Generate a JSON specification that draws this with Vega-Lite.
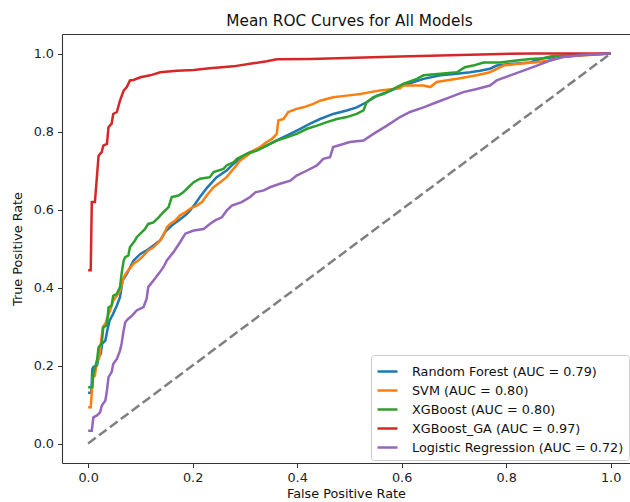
{
  "$schema": "https://vega.github.io/schema/vega-lite/v6.json",
  "width": 568,
  "height": 429,
  "autosize": {"type": "none"},
  "padding": {"left": 62, "top": 34, "right": 0, "bottom": 39},
  "background": "white",
  "title": {"text": "Mean ROC Curves for All Models", "fontSize": 15.3, "font": "DejaVu Sans", "fontWeight": "normal", "color": "#111", "offset": 5, "dx": 3.5},
  "config": {
    "view": {"stroke": null},
    "axis": {"domainColor": "#333", "domainWidth": 1.1, "tickColor": "#333", "tickSize": 4.5, "tickWidth": 1, "labelFont": "DejaVu Sans", "labelFontSize": 12.8, "labelColor": "#222", "labelPadding": 4, "grid": false, "titleFont": "DejaVu Sans", "titleFontSize": 12.8, "titleFontWeight": "normal", "titleColor": "#111"},
    "legend": {"orient": "none", "legendX": 309, "legendY": 321, "padding": 5, "fillColor": "rgba(255,255,255,0.85)", "strokeColor": "#cccccc", "cornerRadius": 3, "symbolType": "stroke", "symbolStrokeWidth": 2.5, "symbolSize": 400, "labelFont": "DejaVu Sans", "labelFontSize": 12.8, "labelColor": "#111", "labelLimit": 400, "labelOffset": 13, "rowPadding": -5}
  },
  "datasets": {
    "diag": [{"fpr": 0, "tpr": 0}, {"fpr": 1, "tpr": 1}],
    "curves": [
      {"model": "Random Forest (AUC = 0.79)", "i": 0, "fpr": 0, "tpr": 0.13},
      {"model": "Random Forest (AUC = 0.79)", "i": 1, "fpr": 0.006, "tpr": 0.13},
      {"model": "Random Forest (AUC = 0.79)", "i": 2, "fpr": 0.008, "tpr": 0.19},
      {"model": "Random Forest (AUC = 0.79)", "i": 3, "fpr": 0.010, "tpr": 0.196},
      {"model": "Random Forest (AUC = 0.79)", "i": 4, "fpr": 0.017, "tpr": 0.200},
      {"model": "Random Forest (AUC = 0.79)", "i": 5, "fpr": 0.020, "tpr": 0.221},
      {"model": "Random Forest (AUC = 0.79)", "i": 6, "fpr": 0.024, "tpr": 0.230},
      {"model": "Random Forest (AUC = 0.79)", "i": 7, "fpr": 0.027, "tpr": 0.256},
      {"model": "Random Forest (AUC = 0.79)", "i": 8, "fpr": 0.033, "tpr": 0.264},
      {"model": "Random Forest (AUC = 0.79)", "i": 9, "fpr": 0.036, "tpr": 0.285},
      {"model": "Random Forest (AUC = 0.79)", "i": 10, "fpr": 0.041, "tpr": 0.315},
      {"model": "Random Forest (AUC = 0.79)", "i": 11, "fpr": 0.048, "tpr": 0.333},
      {"model": "Random Forest (AUC = 0.79)", "i": 12, "fpr": 0.055, "tpr": 0.354},
      {"model": "Random Forest (AUC = 0.79)", "i": 13, "fpr": 0.061, "tpr": 0.375},
      {"model": "Random Forest (AUC = 0.79)", "i": 14, "fpr": 0.066, "tpr": 0.418},
      {"model": "Random Forest (AUC = 0.79)", "i": 15, "fpr": 0.074, "tpr": 0.435},
      {"model": "Random Forest (AUC = 0.79)", "i": 16, "fpr": 0.087, "tpr": 0.469},
      {"model": "Random Forest (AUC = 0.79)", "i": 17, "fpr": 0.100, "tpr": 0.486},
      {"model": "Random Forest (AUC = 0.79)", "i": 18, "fpr": 0.112, "tpr": 0.495},
      {"model": "Random Forest (AUC = 0.79)", "i": 19, "fpr": 0.125, "tpr": 0.508},
      {"model": "Random Forest (AUC = 0.79)", "i": 20, "fpr": 0.138, "tpr": 0.521},
      {"model": "Random Forest (AUC = 0.79)", "i": 21, "fpr": 0.147, "tpr": 0.542},
      {"model": "Random Forest (AUC = 0.79)", "i": 22, "fpr": 0.160, "tpr": 0.559},
      {"model": "Random Forest (AUC = 0.79)", "i": 23, "fpr": 0.173, "tpr": 0.572},
      {"model": "Random Forest (AUC = 0.79)", "i": 24, "fpr": 0.186, "tpr": 0.585},
      {"model": "Random Forest (AUC = 0.79)", "i": 25, "fpr": 0.195, "tpr": 0.597},
      {"model": "Random Forest (AUC = 0.79)", "i": 26, "fpr": 0.205, "tpr": 0.615},
      {"model": "Random Forest (AUC = 0.79)", "i": 27, "fpr": 0.214, "tpr": 0.632},
      {"model": "Random Forest (AUC = 0.79)", "i": 28, "fpr": 0.227, "tpr": 0.655},
      {"model": "Random Forest (AUC = 0.79)", "i": 29, "fpr": 0.246, "tpr": 0.683},
      {"model": "Random Forest (AUC = 0.79)", "i": 30, "fpr": 0.265, "tpr": 0.700},
      {"model": "Random Forest (AUC = 0.79)", "i": 31, "fpr": 0.278, "tpr": 0.717},
      {"model": "Random Forest (AUC = 0.79)", "i": 32, "fpr": 0.291, "tpr": 0.730},
      {"model": "Random Forest (AUC = 0.79)", "i": 33, "fpr": 0.310, "tpr": 0.747},
      {"model": "Random Forest (AUC = 0.79)", "i": 34, "fpr": 0.329, "tpr": 0.756},
      {"model": "Random Forest (AUC = 0.79)", "i": 35, "fpr": 0.348, "tpr": 0.768},
      {"model": "Random Forest (AUC = 0.79)", "i": 36, "fpr": 0.367, "tpr": 0.781},
      {"model": "Random Forest (AUC = 0.79)", "i": 37, "fpr": 0.387, "tpr": 0.794},
      {"model": "Random Forest (AUC = 0.79)", "i": 38, "fpr": 0.406, "tpr": 0.807},
      {"model": "Random Forest (AUC = 0.79)", "i": 39, "fpr": 0.425, "tpr": 0.820},
      {"model": "Random Forest (AUC = 0.79)", "i": 40, "fpr": 0.444, "tpr": 0.832},
      {"model": "Random Forest (AUC = 0.79)", "i": 41, "fpr": 0.469, "tpr": 0.845},
      {"model": "Random Forest (AUC = 0.79)", "i": 42, "fpr": 0.495, "tpr": 0.854},
      {"model": "Random Forest (AUC = 0.79)", "i": 43, "fpr": 0.514, "tpr": 0.862},
      {"model": "Random Forest (AUC = 0.79)", "i": 44, "fpr": 0.533, "tpr": 0.875},
      {"model": "Random Forest (AUC = 0.79)", "i": 45, "fpr": 0.553, "tpr": 0.892},
      {"model": "Random Forest (AUC = 0.79)", "i": 46, "fpr": 0.572, "tpr": 0.901},
      {"model": "Random Forest (AUC = 0.79)", "i": 47, "fpr": 0.603, "tpr": 0.918},
      {"model": "Random Forest (AUC = 0.79)", "i": 48, "fpr": 0.642, "tpr": 0.935},
      {"model": "Random Forest (AUC = 0.79)", "i": 49, "fpr": 0.674, "tpr": 0.944},
      {"model": "Random Forest (AUC = 0.79)", "i": 50, "fpr": 0.706, "tpr": 0.948},
      {"model": "Random Forest (AUC = 0.79)", "i": 51, "fpr": 0.731, "tpr": 0.952},
      {"model": "Random Forest (AUC = 0.79)", "i": 52, "fpr": 0.750, "tpr": 0.956},
      {"model": "Random Forest (AUC = 0.79)", "i": 53, "fpr": 0.769, "tpr": 0.961},
      {"model": "Random Forest (AUC = 0.79)", "i": 54, "fpr": 0.782, "tpr": 0.969},
      {"model": "Random Forest (AUC = 0.79)", "i": 55, "fpr": 0.808, "tpr": 0.973},
      {"model": "Random Forest (AUC = 0.79)", "i": 56, "fpr": 0.846, "tpr": 0.977},
      {"model": "Random Forest (AUC = 0.79)", "i": 57, "fpr": 0.871, "tpr": 0.988},
      {"model": "Random Forest (AUC = 0.79)", "i": 58, "fpr": 0.897, "tpr": 0.991},
      {"model": "Random Forest (AUC = 0.79)", "i": 59, "fpr": 0.935, "tpr": 0.995},
      {"model": "Random Forest (AUC = 0.79)", "i": 60, "fpr": 1.0, "tpr": 1.0},

      {"model": "SVM (AUC = 0.80)", "i": 0, "fpr": 0, "tpr": 0.093},
      {"model": "SVM (AUC = 0.80)", "i": 1, "fpr": 0.005, "tpr": 0.093},
      {"model": "SVM (AUC = 0.80)", "i": 2, "fpr": 0.009, "tpr": 0.170},
      {"model": "SVM (AUC = 0.80)", "i": 3, "fpr": 0.013, "tpr": 0.174},
      {"model": "SVM (AUC = 0.80)", "i": 4, "fpr": 0.017, "tpr": 0.213},
      {"model": "SVM (AUC = 0.80)", "i": 5, "fpr": 0.021, "tpr": 0.217},
      {"model": "SVM (AUC = 0.80)", "i": 6, "fpr": 0.024, "tpr": 0.251},
      {"model": "SVM (AUC = 0.80)", "i": 7, "fpr": 0.028, "tpr": 0.298},
      {"model": "SVM (AUC = 0.80)", "i": 8, "fpr": 0.033, "tpr": 0.307},
      {"model": "SVM (AUC = 0.80)", "i": 9, "fpr": 0.036, "tpr": 0.320},
      {"model": "SVM (AUC = 0.80)", "i": 10, "fpr": 0.042, "tpr": 0.341},
      {"model": "SVM (AUC = 0.80)", "i": 11, "fpr": 0.048, "tpr": 0.367},
      {"model": "SVM (AUC = 0.80)", "i": 12, "fpr": 0.055, "tpr": 0.379},
      {"model": "SVM (AUC = 0.80)", "i": 13, "fpr": 0.061, "tpr": 0.392},
      {"model": "SVM (AUC = 0.80)", "i": 14, "fpr": 0.068, "tpr": 0.426},
      {"model": "SVM (AUC = 0.80)", "i": 15, "fpr": 0.074, "tpr": 0.439},
      {"model": "SVM (AUC = 0.80)", "i": 16, "fpr": 0.087, "tpr": 0.461},
      {"model": "SVM (AUC = 0.80)", "i": 17, "fpr": 0.096, "tpr": 0.469},
      {"model": "SVM (AUC = 0.80)", "i": 18, "fpr": 0.106, "tpr": 0.482},
      {"model": "SVM (AUC = 0.80)", "i": 19, "fpr": 0.115, "tpr": 0.495},
      {"model": "SVM (AUC = 0.80)", "i": 20, "fpr": 0.125, "tpr": 0.503},
      {"model": "SVM (AUC = 0.80)", "i": 21, "fpr": 0.135, "tpr": 0.516},
      {"model": "SVM (AUC = 0.80)", "i": 22, "fpr": 0.144, "tpr": 0.533},
      {"model": "SVM (AUC = 0.80)", "i": 23, "fpr": 0.151, "tpr": 0.555},
      {"model": "SVM (AUC = 0.80)", "i": 24, "fpr": 0.157, "tpr": 0.563},
      {"model": "SVM (AUC = 0.80)", "i": 25, "fpr": 0.167, "tpr": 0.572},
      {"model": "SVM (AUC = 0.80)", "i": 26, "fpr": 0.176, "tpr": 0.585},
      {"model": "SVM (AUC = 0.80)", "i": 27, "fpr": 0.186, "tpr": 0.593},
      {"model": "SVM (AUC = 0.80)", "i": 28, "fpr": 0.195, "tpr": 0.602},
      {"model": "SVM (AUC = 0.80)", "i": 29, "fpr": 0.208, "tpr": 0.610},
      {"model": "SVM (AUC = 0.80)", "i": 30, "fpr": 0.218, "tpr": 0.619},
      {"model": "SVM (AUC = 0.80)", "i": 31, "fpr": 0.227, "tpr": 0.636},
      {"model": "SVM (AUC = 0.80)", "i": 32, "fpr": 0.240, "tpr": 0.657},
      {"model": "SVM (AUC = 0.80)", "i": 33, "fpr": 0.253, "tpr": 0.670},
      {"model": "SVM (AUC = 0.80)", "i": 34, "fpr": 0.265, "tpr": 0.683},
      {"model": "SVM (AUC = 0.80)", "i": 35, "fpr": 0.278, "tpr": 0.704},
      {"model": "SVM (AUC = 0.80)", "i": 36, "fpr": 0.291, "tpr": 0.726},
      {"model": "SVM (AUC = 0.80)", "i": 37, "fpr": 0.304, "tpr": 0.738},
      {"model": "SVM (AUC = 0.80)", "i": 38, "fpr": 0.316, "tpr": 0.751},
      {"model": "SVM (AUC = 0.80)", "i": 39, "fpr": 0.329, "tpr": 0.760},
      {"model": "SVM (AUC = 0.80)", "i": 40, "fpr": 0.342, "tpr": 0.773},
      {"model": "SVM (AUC = 0.80)", "i": 41, "fpr": 0.352, "tpr": 0.781},
      {"model": "SVM (AUC = 0.80)", "i": 42, "fpr": 0.361, "tpr": 0.794},
      {"model": "SVM (AUC = 0.80)", "i": 43, "fpr": 0.364, "tpr": 0.828},
      {"model": "SVM (AUC = 0.80)", "i": 44, "fpr": 0.374, "tpr": 0.832},
      {"model": "SVM (AUC = 0.80)", "i": 45, "fpr": 0.383, "tpr": 0.850},
      {"model": "SVM (AUC = 0.80)", "i": 46, "fpr": 0.399, "tpr": 0.858},
      {"model": "SVM (AUC = 0.80)", "i": 47, "fpr": 0.412, "tpr": 0.862},
      {"model": "SVM (AUC = 0.80)", "i": 48, "fpr": 0.431, "tpr": 0.871},
      {"model": "SVM (AUC = 0.80)", "i": 49, "fpr": 0.444, "tpr": 0.879},
      {"model": "SVM (AUC = 0.80)", "i": 50, "fpr": 0.469, "tpr": 0.888},
      {"model": "SVM (AUC = 0.80)", "i": 51, "fpr": 0.495, "tpr": 0.892},
      {"model": "SVM (AUC = 0.80)", "i": 52, "fpr": 0.521, "tpr": 0.896},
      {"model": "SVM (AUC = 0.80)", "i": 53, "fpr": 0.540, "tpr": 0.901},
      {"model": "SVM (AUC = 0.80)", "i": 54, "fpr": 0.559, "tpr": 0.905},
      {"model": "SVM (AUC = 0.80)", "i": 55, "fpr": 0.597, "tpr": 0.911},
      {"model": "SVM (AUC = 0.80)", "i": 56, "fpr": 0.603, "tpr": 0.918},
      {"model": "SVM (AUC = 0.80)", "i": 57, "fpr": 0.642, "tpr": 0.918},
      {"model": "SVM (AUC = 0.80)", "i": 58, "fpr": 0.655, "tpr": 0.914},
      {"model": "SVM (AUC = 0.80)", "i": 59, "fpr": 0.667, "tpr": 0.927},
      {"model": "SVM (AUC = 0.80)", "i": 60, "fpr": 0.706, "tpr": 0.935},
      {"model": "SVM (AUC = 0.80)", "i": 61, "fpr": 0.744, "tpr": 0.944},
      {"model": "SVM (AUC = 0.80)", "i": 62, "fpr": 0.769, "tpr": 0.952},
      {"model": "SVM (AUC = 0.80)", "i": 63, "fpr": 0.795, "tpr": 0.969},
      {"model": "SVM (AUC = 0.80)", "i": 64, "fpr": 0.820, "tpr": 0.973},
      {"model": "SVM (AUC = 0.80)", "i": 65, "fpr": 0.852, "tpr": 0.977},
      {"model": "SVM (AUC = 0.80)", "i": 66, "fpr": 0.884, "tpr": 0.982},
      {"model": "SVM (AUC = 0.80)", "i": 67, "fpr": 0.903, "tpr": 0.991},
      {"model": "SVM (AUC = 0.80)", "i": 68, "fpr": 1.0, "tpr": 1.0},

      {"model": "XGBoost (AUC = 0.80)", "i": 0, "fpr": 0, "tpr": 0.144},
      {"model": "XGBoost (AUC = 0.80)", "i": 1, "fpr": 0.008, "tpr": 0.144},
      {"model": "XGBoost (AUC = 0.80)", "i": 2, "fpr": 0.010, "tpr": 0.179},
      {"model": "XGBoost (AUC = 0.80)", "i": 3, "fpr": 0.017, "tpr": 0.213},
      {"model": "XGBoost (AUC = 0.80)", "i": 4, "fpr": 0.020, "tpr": 0.247},
      {"model": "XGBoost (AUC = 0.80)", "i": 5, "fpr": 0.026, "tpr": 0.256},
      {"model": "XGBoost (AUC = 0.80)", "i": 6, "fpr": 0.029, "tpr": 0.298},
      {"model": "XGBoost (AUC = 0.80)", "i": 7, "fpr": 0.036, "tpr": 0.303},
      {"model": "XGBoost (AUC = 0.80)", "i": 8, "fpr": 0.039, "tpr": 0.349},
      {"model": "XGBoost (AUC = 0.80)", "i": 9, "fpr": 0.045, "tpr": 0.354},
      {"model": "XGBoost (AUC = 0.80)", "i": 10, "fpr": 0.048, "tpr": 0.379},
      {"model": "XGBoost (AUC = 0.80)", "i": 11, "fpr": 0.055, "tpr": 0.384},
      {"model": "XGBoost (AUC = 0.80)", "i": 12, "fpr": 0.061, "tpr": 0.401},
      {"model": "XGBoost (AUC = 0.80)", "i": 13, "fpr": 0.064, "tpr": 0.435},
      {"model": "XGBoost (AUC = 0.80)", "i": 14, "fpr": 0.068, "tpr": 0.469},
      {"model": "XGBoost (AUC = 0.80)", "i": 15, "fpr": 0.071, "tpr": 0.478},
      {"model": "XGBoost (AUC = 0.80)", "i": 16, "fpr": 0.077, "tpr": 0.482},
      {"model": "XGBoost (AUC = 0.80)", "i": 17, "fpr": 0.080, "tpr": 0.503},
      {"model": "XGBoost (AUC = 0.80)", "i": 18, "fpr": 0.090, "tpr": 0.521},
      {"model": "XGBoost (AUC = 0.80)", "i": 19, "fpr": 0.093, "tpr": 0.529},
      {"model": "XGBoost (AUC = 0.80)", "i": 20, "fpr": 0.103, "tpr": 0.542},
      {"model": "XGBoost (AUC = 0.80)", "i": 21, "fpr": 0.109, "tpr": 0.550},
      {"model": "XGBoost (AUC = 0.80)", "i": 22, "fpr": 0.115, "tpr": 0.563},
      {"model": "XGBoost (AUC = 0.80)", "i": 23, "fpr": 0.125, "tpr": 0.567},
      {"model": "XGBoost (AUC = 0.80)", "i": 24, "fpr": 0.135, "tpr": 0.580},
      {"model": "XGBoost (AUC = 0.80)", "i": 25, "fpr": 0.144, "tpr": 0.593},
      {"model": "XGBoost (AUC = 0.80)", "i": 26, "fpr": 0.154, "tpr": 0.606},
      {"model": "XGBoost (AUC = 0.80)", "i": 27, "fpr": 0.160, "tpr": 0.632},
      {"model": "XGBoost (AUC = 0.80)", "i": 28, "fpr": 0.173, "tpr": 0.636},
      {"model": "XGBoost (AUC = 0.80)", "i": 29, "fpr": 0.182, "tpr": 0.644},
      {"model": "XGBoost (AUC = 0.80)", "i": 30, "fpr": 0.192, "tpr": 0.657},
      {"model": "XGBoost (AUC = 0.80)", "i": 31, "fpr": 0.202, "tpr": 0.670},
      {"model": "XGBoost (AUC = 0.80)", "i": 32, "fpr": 0.214, "tpr": 0.679},
      {"model": "XGBoost (AUC = 0.80)", "i": 33, "fpr": 0.233, "tpr": 0.683},
      {"model": "XGBoost (AUC = 0.80)", "i": 34, "fpr": 0.240, "tpr": 0.696},
      {"model": "XGBoost (AUC = 0.80)", "i": 35, "fpr": 0.259, "tpr": 0.704},
      {"model": "XGBoost (AUC = 0.80)", "i": 36, "fpr": 0.265, "tpr": 0.713},
      {"model": "XGBoost (AUC = 0.80)", "i": 37, "fpr": 0.278, "tpr": 0.721},
      {"model": "XGBoost (AUC = 0.80)", "i": 38, "fpr": 0.285, "tpr": 0.730},
      {"model": "XGBoost (AUC = 0.80)", "i": 39, "fpr": 0.304, "tpr": 0.743},
      {"model": "XGBoost (AUC = 0.80)", "i": 40, "fpr": 0.323, "tpr": 0.751},
      {"model": "XGBoost (AUC = 0.80)", "i": 41, "fpr": 0.342, "tpr": 0.764},
      {"model": "XGBoost (AUC = 0.80)", "i": 42, "fpr": 0.361, "tpr": 0.777},
      {"model": "XGBoost (AUC = 0.80)", "i": 43, "fpr": 0.380, "tpr": 0.785},
      {"model": "XGBoost (AUC = 0.80)", "i": 44, "fpr": 0.399, "tpr": 0.794},
      {"model": "XGBoost (AUC = 0.80)", "i": 45, "fpr": 0.419, "tpr": 0.807},
      {"model": "XGBoost (AUC = 0.80)", "i": 46, "fpr": 0.438, "tpr": 0.815},
      {"model": "XGBoost (AUC = 0.80)", "i": 47, "fpr": 0.457, "tpr": 0.824},
      {"model": "XGBoost (AUC = 0.80)", "i": 48, "fpr": 0.476, "tpr": 0.832},
      {"model": "XGBoost (AUC = 0.80)", "i": 49, "fpr": 0.495, "tpr": 0.837},
      {"model": "XGBoost (AUC = 0.80)", "i": 50, "fpr": 0.514, "tpr": 0.845},
      {"model": "XGBoost (AUC = 0.80)", "i": 51, "fpr": 0.527, "tpr": 0.854},
      {"model": "XGBoost (AUC = 0.80)", "i": 52, "fpr": 0.533, "tpr": 0.875},
      {"model": "XGBoost (AUC = 0.80)", "i": 53, "fpr": 0.546, "tpr": 0.888},
      {"model": "XGBoost (AUC = 0.80)", "i": 54, "fpr": 0.565, "tpr": 0.896},
      {"model": "XGBoost (AUC = 0.80)", "i": 55, "fpr": 0.603, "tpr": 0.922},
      {"model": "XGBoost (AUC = 0.80)", "i": 56, "fpr": 0.629, "tpr": 0.935},
      {"model": "XGBoost (AUC = 0.80)", "i": 57, "fpr": 0.642, "tpr": 0.944},
      {"model": "XGBoost (AUC = 0.80)", "i": 58, "fpr": 0.674, "tpr": 0.948},
      {"model": "XGBoost (AUC = 0.80)", "i": 59, "fpr": 0.706, "tpr": 0.952},
      {"model": "XGBoost (AUC = 0.80)", "i": 60, "fpr": 0.721, "tpr": 0.965},
      {"model": "XGBoost (AUC = 0.80)", "i": 61, "fpr": 0.737, "tpr": 0.969},
      {"model": "XGBoost (AUC = 0.80)", "i": 62, "fpr": 0.757, "tpr": 0.977},
      {"model": "XGBoost (AUC = 0.80)", "i": 63, "fpr": 0.789, "tpr": 0.977},
      {"model": "XGBoost (AUC = 0.80)", "i": 64, "fpr": 0.820, "tpr": 0.982},
      {"model": "XGBoost (AUC = 0.80)", "i": 65, "fpr": 0.846, "tpr": 0.986},
      {"model": "XGBoost (AUC = 0.80)", "i": 66, "fpr": 0.871, "tpr": 0.988},
      {"model": "XGBoost (AUC = 0.80)", "i": 67, "fpr": 0.887, "tpr": 0.993},
      {"model": "XGBoost (AUC = 0.80)", "i": 68, "fpr": 1.0, "tpr": 1.0},

      {"model": "XGBoost_GA (AUC = 0.97)", "i": 0, "fpr": 0, "tpr": 0.444},
      {"model": "XGBoost_GA (AUC = 0.97)", "i": 1, "fpr": 0.005, "tpr": 0.444},
      {"model": "XGBoost_GA (AUC = 0.97)", "i": 2, "fpr": 0.007, "tpr": 0.619},
      {"model": "XGBoost_GA (AUC = 0.97)", "i": 3, "fpr": 0.013, "tpr": 0.619},
      {"model": "XGBoost_GA (AUC = 0.97)", "i": 4, "fpr": 0.020, "tpr": 0.738},
      {"model": "XGBoost_GA (AUC = 0.97)", "i": 5, "fpr": 0.026, "tpr": 0.747},
      {"model": "XGBoost_GA (AUC = 0.97)", "i": 6, "fpr": 0.029, "tpr": 0.764},
      {"model": "XGBoost_GA (AUC = 0.97)", "i": 7, "fpr": 0.036, "tpr": 0.768},
      {"model": "XGBoost_GA (AUC = 0.97)", "i": 8, "fpr": 0.039, "tpr": 0.811},
      {"model": "XGBoost_GA (AUC = 0.97)", "i": 9, "fpr": 0.045, "tpr": 0.820},
      {"model": "XGBoost_GA (AUC = 0.97)", "i": 10, "fpr": 0.048, "tpr": 0.845},
      {"model": "XGBoost_GA (AUC = 0.97)", "i": 11, "fpr": 0.055, "tpr": 0.850},
      {"model": "XGBoost_GA (AUC = 0.97)", "i": 12, "fpr": 0.061, "tpr": 0.879},
      {"model": "XGBoost_GA (AUC = 0.97)", "i": 13, "fpr": 0.068, "tpr": 0.905},
      {"model": "XGBoost_GA (AUC = 0.97)", "i": 14, "fpr": 0.074, "tpr": 0.914},
      {"model": "XGBoost_GA (AUC = 0.97)", "i": 15, "fpr": 0.080, "tpr": 0.931},
      {"model": "XGBoost_GA (AUC = 0.97)", "i": 16, "fpr": 0.087, "tpr": 0.932},
      {"model": "XGBoost_GA (AUC = 0.97)", "i": 17, "fpr": 0.100, "tpr": 0.939},
      {"model": "XGBoost_GA (AUC = 0.97)", "i": 18, "fpr": 0.119, "tpr": 0.944},
      {"model": "XGBoost_GA (AUC = 0.97)", "i": 19, "fpr": 0.138, "tpr": 0.952},
      {"model": "XGBoost_GA (AUC = 0.97)", "i": 20, "fpr": 0.170, "tpr": 0.956},
      {"model": "XGBoost_GA (AUC = 0.97)", "i": 21, "fpr": 0.202, "tpr": 0.958},
      {"model": "XGBoost_GA (AUC = 0.97)", "i": 22, "fpr": 0.233, "tpr": 0.962},
      {"model": "XGBoost_GA (AUC = 0.97)", "i": 23, "fpr": 0.278, "tpr": 0.967},
      {"model": "XGBoost_GA (AUC = 0.97)", "i": 24, "fpr": 0.316, "tpr": 0.975},
      {"model": "XGBoost_GA (AUC = 0.97)", "i": 25, "fpr": 0.342, "tpr": 0.980},
      {"model": "XGBoost_GA (AUC = 0.97)", "i": 26, "fpr": 0.361, "tpr": 0.985},
      {"model": "XGBoost_GA (AUC = 0.97)", "i": 27, "fpr": 0.425, "tpr": 0.986},
      {"model": "XGBoost_GA (AUC = 0.97)", "i": 28, "fpr": 0.597, "tpr": 0.992},
      {"model": "XGBoost_GA (AUC = 0.97)", "i": 29, "fpr": 0.789, "tpr": 0.999},
      {"model": "XGBoost_GA (AUC = 0.97)", "i": 30, "fpr": 0.852, "tpr": 1.0},
      {"model": "XGBoost_GA (AUC = 0.97)", "i": 31, "fpr": 1.0, "tpr": 1.0},

      {"model": "Logistic Regression (AUC = 0.72)", "i": 0, "fpr": 0, "tpr": 0.033},
      {"model": "Logistic Regression (AUC = 0.72)", "i": 1, "fpr": 0.007, "tpr": 0.033},
      {"model": "Logistic Regression (AUC = 0.72)", "i": 2, "fpr": 0.010, "tpr": 0.067},
      {"model": "Logistic Regression (AUC = 0.72)", "i": 3, "fpr": 0.017, "tpr": 0.072},
      {"model": "Logistic Regression (AUC = 0.72)", "i": 4, "fpr": 0.023, "tpr": 0.080},
      {"model": "Logistic Regression (AUC = 0.72)", "i": 5, "fpr": 0.026, "tpr": 0.097},
      {"model": "Logistic Regression (AUC = 0.72)", "i": 6, "fpr": 0.033, "tpr": 0.110},
      {"model": "Logistic Regression (AUC = 0.72)", "i": 7, "fpr": 0.036, "tpr": 0.136},
      {"model": "Logistic Regression (AUC = 0.72)", "i": 8, "fpr": 0.039, "tpr": 0.170},
      {"model": "Logistic Regression (AUC = 0.72)", "i": 9, "fpr": 0.045, "tpr": 0.183},
      {"model": "Logistic Regression (AUC = 0.72)", "i": 10, "fpr": 0.048, "tpr": 0.204},
      {"model": "Logistic Regression (AUC = 0.72)", "i": 11, "fpr": 0.055, "tpr": 0.217},
      {"model": "Logistic Regression (AUC = 0.72)", "i": 12, "fpr": 0.061, "tpr": 0.238},
      {"model": "Logistic Regression (AUC = 0.72)", "i": 13, "fpr": 0.064, "tpr": 0.256},
      {"model": "Logistic Regression (AUC = 0.72)", "i": 14, "fpr": 0.068, "tpr": 0.290},
      {"model": "Logistic Regression (AUC = 0.72)", "i": 15, "fpr": 0.071, "tpr": 0.311},
      {"model": "Logistic Regression (AUC = 0.72)", "i": 16, "fpr": 0.077, "tpr": 0.320},
      {"model": "Logistic Regression (AUC = 0.72)", "i": 17, "fpr": 0.084, "tpr": 0.328},
      {"model": "Logistic Regression (AUC = 0.72)", "i": 18, "fpr": 0.093, "tpr": 0.341},
      {"model": "Logistic Regression (AUC = 0.72)", "i": 19, "fpr": 0.106, "tpr": 0.350},
      {"model": "Logistic Regression (AUC = 0.72)", "i": 20, "fpr": 0.112, "tpr": 0.371},
      {"model": "Logistic Regression (AUC = 0.72)", "i": 21, "fpr": 0.115, "tpr": 0.401},
      {"model": "Logistic Regression (AUC = 0.72)", "i": 22, "fpr": 0.125, "tpr": 0.418},
      {"model": "Logistic Regression (AUC = 0.72)", "i": 23, "fpr": 0.135, "tpr": 0.435},
      {"model": "Logistic Regression (AUC = 0.72)", "i": 24, "fpr": 0.144, "tpr": 0.452},
      {"model": "Logistic Regression (AUC = 0.72)", "i": 25, "fpr": 0.151, "tpr": 0.470},
      {"model": "Logistic Regression (AUC = 0.72)", "i": 26, "fpr": 0.163, "tpr": 0.490},
      {"model": "Logistic Regression (AUC = 0.72)", "i": 27, "fpr": 0.176, "tpr": 0.516},
      {"model": "Logistic Regression (AUC = 0.72)", "i": 28, "fpr": 0.186, "tpr": 0.538},
      {"model": "Logistic Regression (AUC = 0.72)", "i": 29, "fpr": 0.202, "tpr": 0.546},
      {"model": "Logistic Regression (AUC = 0.72)", "i": 30, "fpr": 0.221, "tpr": 0.550},
      {"model": "Logistic Regression (AUC = 0.72)", "i": 31, "fpr": 0.233, "tpr": 0.563},
      {"model": "Logistic Regression (AUC = 0.72)", "i": 32, "fpr": 0.243, "tpr": 0.572},
      {"model": "Logistic Regression (AUC = 0.72)", "i": 33, "fpr": 0.256, "tpr": 0.580},
      {"model": "Logistic Regression (AUC = 0.72)", "i": 34, "fpr": 0.265, "tpr": 0.597},
      {"model": "Logistic Regression (AUC = 0.72)", "i": 35, "fpr": 0.275, "tpr": 0.610},
      {"model": "Logistic Regression (AUC = 0.72)", "i": 36, "fpr": 0.294, "tpr": 0.619},
      {"model": "Logistic Regression (AUC = 0.72)", "i": 37, "fpr": 0.310, "tpr": 0.632},
      {"model": "Logistic Regression (AUC = 0.72)", "i": 38, "fpr": 0.320, "tpr": 0.644},
      {"model": "Logistic Regression (AUC = 0.72)", "i": 39, "fpr": 0.336, "tpr": 0.649},
      {"model": "Logistic Regression (AUC = 0.72)", "i": 40, "fpr": 0.348, "tpr": 0.657},
      {"model": "Logistic Regression (AUC = 0.72)", "i": 41, "fpr": 0.367, "tpr": 0.666},
      {"model": "Logistic Regression (AUC = 0.72)", "i": 42, "fpr": 0.387, "tpr": 0.674},
      {"model": "Logistic Regression (AUC = 0.72)", "i": 43, "fpr": 0.399, "tpr": 0.687},
      {"model": "Logistic Regression (AUC = 0.72)", "i": 44, "fpr": 0.419, "tpr": 0.700},
      {"model": "Logistic Regression (AUC = 0.72)", "i": 45, "fpr": 0.438, "tpr": 0.713},
      {"model": "Logistic Regression (AUC = 0.72)", "i": 46, "fpr": 0.450, "tpr": 0.730},
      {"model": "Logistic Regression (AUC = 0.72)", "i": 47, "fpr": 0.463, "tpr": 0.734},
      {"model": "Logistic Regression (AUC = 0.72)", "i": 48, "fpr": 0.469, "tpr": 0.760},
      {"model": "Logistic Regression (AUC = 0.72)", "i": 49, "fpr": 0.501, "tpr": 0.773},
      {"model": "Logistic Regression (AUC = 0.72)", "i": 50, "fpr": 0.527, "tpr": 0.777},
      {"model": "Logistic Regression (AUC = 0.72)", "i": 51, "fpr": 0.546, "tpr": 0.794},
      {"model": "Logistic Regression (AUC = 0.72)", "i": 52, "fpr": 0.572, "tpr": 0.815},
      {"model": "Logistic Regression (AUC = 0.72)", "i": 53, "fpr": 0.597, "tpr": 0.837},
      {"model": "Logistic Regression (AUC = 0.72)", "i": 54, "fpr": 0.616, "tpr": 0.850},
      {"model": "Logistic Regression (AUC = 0.72)", "i": 55, "fpr": 0.642, "tpr": 0.862},
      {"model": "Logistic Regression (AUC = 0.72)", "i": 56, "fpr": 0.667, "tpr": 0.875},
      {"model": "Logistic Regression (AUC = 0.72)", "i": 57, "fpr": 0.693, "tpr": 0.888},
      {"model": "Logistic Regression (AUC = 0.72)", "i": 58, "fpr": 0.718, "tpr": 0.901},
      {"model": "Logistic Regression (AUC = 0.72)", "i": 59, "fpr": 0.744, "tpr": 0.909},
      {"model": "Logistic Regression (AUC = 0.72)", "i": 60, "fpr": 0.769, "tpr": 0.918},
      {"model": "Logistic Regression (AUC = 0.72)", "i": 61, "fpr": 0.782, "tpr": 0.931},
      {"model": "Logistic Regression (AUC = 0.72)", "i": 62, "fpr": 0.808, "tpr": 0.944},
      {"model": "Logistic Regression (AUC = 0.72)", "i": 63, "fpr": 0.833, "tpr": 0.956},
      {"model": "Logistic Regression (AUC = 0.72)", "i": 64, "fpr": 0.859, "tpr": 0.969},
      {"model": "Logistic Regression (AUC = 0.72)", "i": 65, "fpr": 0.884, "tpr": 0.982},
      {"model": "Logistic Regression (AUC = 0.72)", "i": 66, "fpr": 0.910, "tpr": 0.991},
      {"model": "Logistic Regression (AUC = 0.72)", "i": 67, "fpr": 0.948, "tpr": 0.997},
      {"model": "Logistic Regression (AUC = 0.72)", "i": 68, "fpr": 1.0, "tpr": 1.0}
    ]
  },
  "layer": [
    {
      "data": {"name": "diag"},
      "mark": {"type": "line", "strokeDash": [9.5, 4.1], "color": "#808080", "strokeWidth": 2.5},
      "encoding": {
        "x": {"field": "fpr", "type": "quantitative", "scale": {"domain": [-0.05, 1.0371], "nice": false, "zero": false}, "axis": {"orient": "top", "labels": false, "ticks": false, "title": null, "domain": true}},
        "y": {"field": "tpr", "type": "quantitative", "scale": {"domain": [-0.05, 1.05], "nice": false, "zero": false}, "axis": {"values": [0, 0.2, 0.4, 0.6, 0.8, 1.0], "format": ".1f", "title": "True Positive Rate", "titlePadding": 9}}
      }
    },
    {
      "data": {"name": "curves"},
      "mark": {"type": "line", "strokeWidth": 2.5},
      "encoding": {
        "x": {"field": "fpr", "type": "quantitative", "scale": {"domain": [-0.05, 1.0371], "nice": false, "zero": false}, "axis": {"orient": "bottom", "values": [0, 0.2, 0.4, 0.6, 0.8, 1.0], "format": ".1f", "title": "False Positive Rate", "titlePadding": 3}},
        "y": {"field": "tpr", "type": "quantitative", "scale": {"domain": [-0.05, 1.05], "nice": false, "zero": false}, "axis": {"values": [0, 0.2, 0.4, 0.6, 0.8, 1.0], "format": ".1f", "title": "True Positive Rate", "titlePadding": 9}},
        "color": {"field": "model", "type": "nominal", "title": null, "scale": {"domain": ["Random Forest (AUC = 0.79)", "SVM (AUC = 0.80)", "XGBoost (AUC = 0.80)", "XGBoost_GA (AUC = 0.97)", "Logistic Regression (AUC = 0.72)"], "range": ["#1f77b4", "#ff7f0e", "#2ca02c", "#d62728", "#9467bd"]}},
        "order": {"field": "i", "type": "quantitative"}
      }
    }
  ],
  "resolve": {"axis": {"x": "independent"}}
}
